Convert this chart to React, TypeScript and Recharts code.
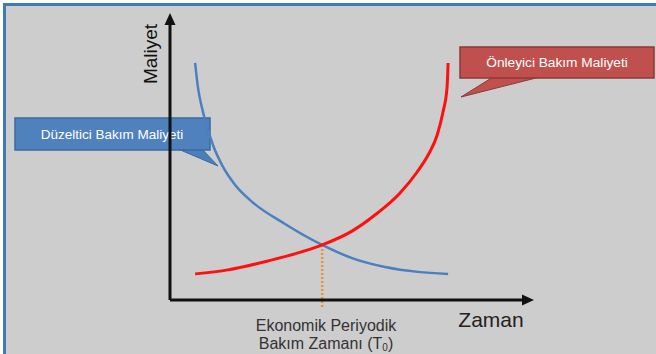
import React from 'react';
import { LineChart, Line, XAxis, YAxis, ReferenceLine } from 'recharts';

// time (0-100) vs cost (0-100)
const correctiveCost = [
  { t: 6.9, cost: 82.6 },
  { t: 7.7, cost: 73.9 },
  { t: 8.8, cost: 66.9 },
  { t: 10.2, cost: 60.3 },
  { t: 11.8, cost: 54.0 },
  { t: 14.3, cost: 47.0 },
  { t: 17.9, cost: 40.1 },
  { t: 22.0, cost: 34.8 },
  { t: 31.6, cost: 26.5 },
  { t: 41.8, cost: 19.2 },
  { t: 50.0, cost: 14.6 },
  { t: 59.1, cost: 11.5 },
  { t: 68.1, cost: 9.8 },
  { t: 76.4, cost: 9.1 },
];

const preventiveCost = [
  { t: 6.9, cost: 9.1 },
  { t: 15.9, cost: 10.5 },
  { t: 26.9, cost: 13.6 },
  { t: 35.2, cost: 16.4 },
  { t: 41.8, cost: 19.2 },
  { t: 50.0, cost: 24.0 },
  { t: 56.3, cost: 29.6 },
  { t: 63.2, cost: 37.3 },
  { t: 67.9, cost: 44.6 },
  { t: 70.9, cost: 50.5 },
  { t: 73.4, cost: 57.5 },
  { t: 75.0, cost: 65.5 },
  { t: 76.1, cost: 73.9 },
  { t: 76.4, cost: 82.6 },
];

const optimum = { t: 41.8, cost: 19.2 };
const labels = {
  yAxis: 'Maliyet',
  xAxis: 'Zaman',
  corrective: 'Düzeltici Bakım Maliyeti',
  preventive: 'Önleyici Bakım Maliyeti',
  optimumLine1: 'Ekonomik Periyodik',
  optimumLine2: 'Bakım Zamanı (T',
};

const FONT = '"Liberation Sans", Arial, sans-serif';

const Arrow = (props: any) => {
  const { x1, y1, x2, y2 } = props;
  const dx = x2 - x1;
  const dy = y2 - y1;
  const len = Math.sqrt(dx * dx + dy * dy) || 1;
  const ux = dx / len;
  const uy = dy / len;
  const head = 12;
  const half = 5.5;
  const bx = x2 - ux * head;
  const by = y2 - uy * head;
  return (
    <g>
      <line x1={x1} y1={y1} x2={bx + ux * 2} y2={by + uy * 2} stroke="#111" strokeWidth={3} />
      <path
        d={`M${x2},${y2} L${bx - uy * half},${by + ux * half} L${bx + uy * half},${by - ux * half} Z`}
        fill="#111"
      />
    </g>
  );
};

function App() {
  return (
    <div style={{ position: 'absolute', left: 0, top: 0, width: 656, height: 354, background: '#ffffff' }}>
      <div
        style={{
          position: 'absolute',
          left: 3,
          top: 3,
          width: 653,
          height: 351,
          boxSizing: 'border-box',
          borderLeft: '3px solid #3f7bb4',
          borderTop: '3px solid #3f7bb4',
          background: '#cdcdcd',
        }}
      />
      <div style={{ position: 'absolute', left: 0, top: 0 }}>
        <LineChart width={656} height={354} margin={{ top: 13, right: 122, bottom: 54, left: 170 }}>
          <XAxis dataKey="t" type="number" domain={[0, 100]} hide allowDuplicatedCategory={false} />
          <YAxis dataKey="cost" type="number" domain={[0, 100]} hide />

          <ReferenceLine
            segment={[{ x: optimum.t, y: optimum.cost }, { x: optimum.t, y: -2.4 }]}
            stroke="#e8923a"
            strokeWidth={2.5}
            strokeDasharray="2 2"
            ifOverflow="visible"
          />

          <Line
            data={correctiveCost}
            dataKey="cost"
            type="monotone"
            stroke="#4a80c0"
            strokeWidth={2.5}
            dot={false}
            isAnimationActive={false}
          />
          <Line
            data={preventiveCost}
            dataKey="cost"
            type="monotone"
            stroke="#ff1010"
            strokeWidth={3}
            dot={false}
            isAnimationActive={false}
          />

          <ReferenceLine segment={[{ x: 0, y: 0 }, { x: 0, y: 100 }]} shape={Arrow} ifOverflow="visible" />
          <ReferenceLine segment={[{ x: 0, y: 0 }, { x: 100, y: 0 }]} shape={Arrow} ifOverflow="visible" />

          <text
            x={150}
            y={54}
            transform="rotate(-90 150 54)"
            textAnchor="middle"
            dominantBaseline="central"
            fontFamily={FONT}
            fontSize={19}
            fill="#111"
          >
            {labels.yAxis}
          </text>
          <text x={491} y={319} textAnchor="middle" dominantBaseline="central" fontFamily={FONT} fontSize={21} fill="#222">
            {labels.xAxis}
          </text>
          <text x={326} y={325} textAnchor="middle" dominantBaseline="central" fontFamily={FONT} fontSize={16} fill="#333">
            {labels.optimumLine1}
          </text>
          <text x={326} y={343} textAnchor="middle" dominantBaseline="central" fontFamily={FONT} fontSize={16} fill="#333">
            {labels.optimumLine2}
            <tspan fontSize={10} dy={4}>0</tspan>
            <tspan dy={-4}>)</tspan>
          </text>

          <g>
            <polygon points="178,149 202,149 218,166" fill="#4a7fbd" stroke="#3a6aa0" strokeWidth={1} />
            <rect x={15} y={118} width={195} height={32} fill="#4f81bd" stroke="#3a6aa0" strokeWidth={1.5} />
            <text x={112} y={134} textAnchor="middle" dominantBaseline="central" fontFamily={FONT} fontSize={13.5} fill="#fff">
              {labels.corrective}
            </text>
          </g>
          <g>
            <polygon points="493,77 540,77 461,97" fill="#c0504d" stroke="#8c3836" strokeWidth={1} />
            <rect x={460} y={47} width={194} height={31} fill="#c0504d" stroke="#8c3836" strokeWidth={1.5} />
            <text x={557} y={62} textAnchor="middle" dominantBaseline="central" fontFamily={FONT} fontSize={13.7} fill="#fff">
              {labels.preventive}
            </text>
          </g>
        </LineChart>
      </div>
    </div>
  );
}

export default App;
